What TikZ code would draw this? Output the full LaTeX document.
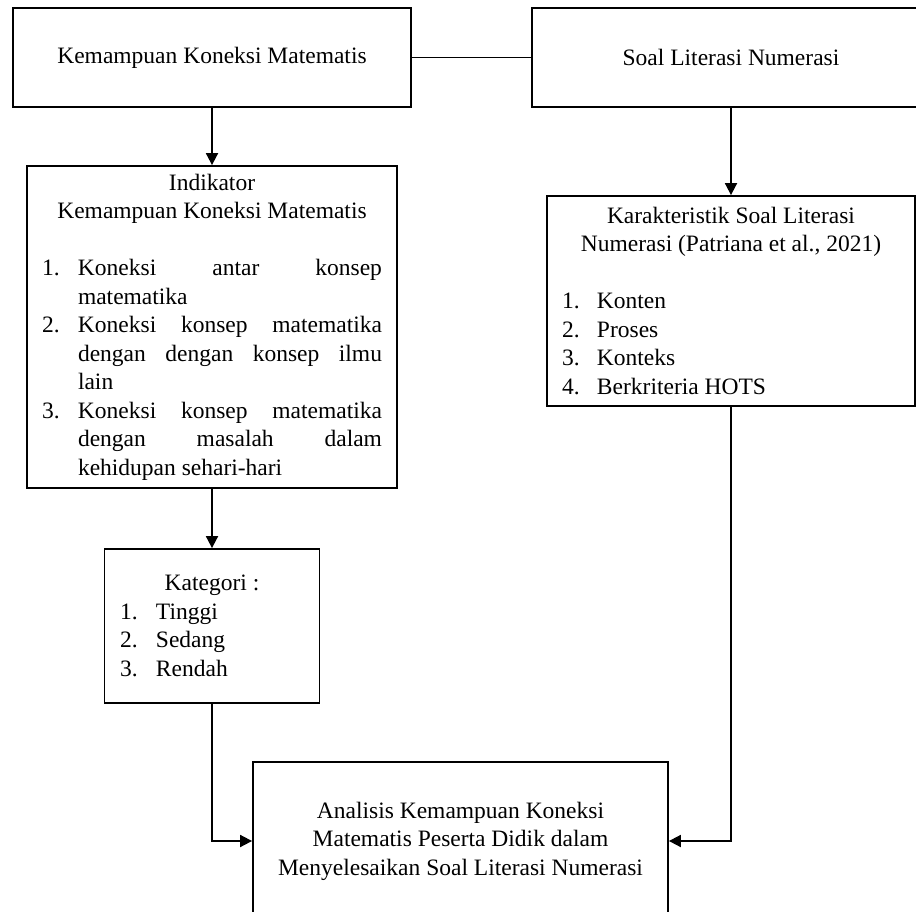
\documentclass[tikz,border=0pt]{standalone}
\usepackage{fontspec}
\setmainfont{Liberation Serif}
\usetikzlibrary{arrows.meta}
\tikzset{
  box/.style={draw, line width=1.8pt, inner sep=0pt, align=left},
  conn/.style={line width=1.8pt},
  arr/.style={line width=1.8pt, -{Triangle[width=12pt,length=12pt]}},
}
\begin{document}
\begin{tikzpicture}[x=1pt, y=-1pt, font=\fontsize{23.5}{28.5}\selectfont]
\useasboundingbox (0,0) rectangle (916,912);
\clip (0,0) rectangle (916,912);

\node[box, minimum width=398pt, minimum height=99pt] (b1) at (212,57.5)
  {Kemampuan Koneksi Matematis};
\node[box, minimum width=398pt, minimum height=99pt] (b2) at (731,57.5)
  {Soal Literasi Numerasi};

\node[box, minimum width=370pt, minimum height=322pt] (ind) at (212,327) {%
\makebox[340pt]{Indikator}\\
\makebox[340pt]{Kemampuan Koneksi Matematis}\\
\mbox{}\\
\makebox[36pt][l]{1.}\makebox[304pt][s]{Koneksi antar konsep}\\
\hspace*{36pt}matematika\\
\makebox[36pt][l]{2.}\makebox[304pt][s]{Koneksi konsep matematika}\\
\hspace*{36pt}\makebox[304pt][s]{dengan dengan konsep ilmu}\\
\hspace*{36pt}lain\\
\makebox[36pt][l]{3.}\makebox[304pt][s]{Koneksi konsep matematika}\\
\hspace*{36pt}\makebox[304pt][s]{dengan masalah dalam}\\
\hspace*{36pt}kehidupan sehari-hari};

\node[box, minimum width=368pt, minimum height=210pt] (kar) at (731,301) {%
\makebox[338pt]{Karakteristik Soal Literasi}\\
\makebox[338pt]{Numerasi (Patriana et al., 2021)}\\
\mbox{}\\
\makebox[35pt][l]{1.}Konten\\
\makebox[35pt][l]{2.}Proses\\
\makebox[35pt][l]{3.}Konteks\\
\makebox[35pt][l]{4.}Berkriteria HOTS};

\node[box, minimum width=215pt, minimum height=154pt] (kat) at (212,626) {%
\makebox[184pt]{Kategori :}\\
\makebox[36pt][l]{1.}Tinggi\\
\makebox[36pt][l]{2.}Sedang\\
\makebox[36pt][l]{3.}Rendah};

\node[box, align=center, minimum width=415pt, minimum height=158pt] (fin) at (460.5,841) {%
Analisis Kemampuan Koneksi\\
Matematis Peserta Didik dalam\\
Menyelesaikan Soal Literasi Numerasi};

\draw[conn] (b1) -- (b2);
\draw[arr] (b1) -- (ind);
\draw[arr] (b2) -- (kar);
\draw[arr] (ind) -- (kat);
\draw[arr] (kat.south) |- (fin.west);
\draw[arr] (kar.south) |- (fin.east);
\end{tikzpicture}
\end{document}
